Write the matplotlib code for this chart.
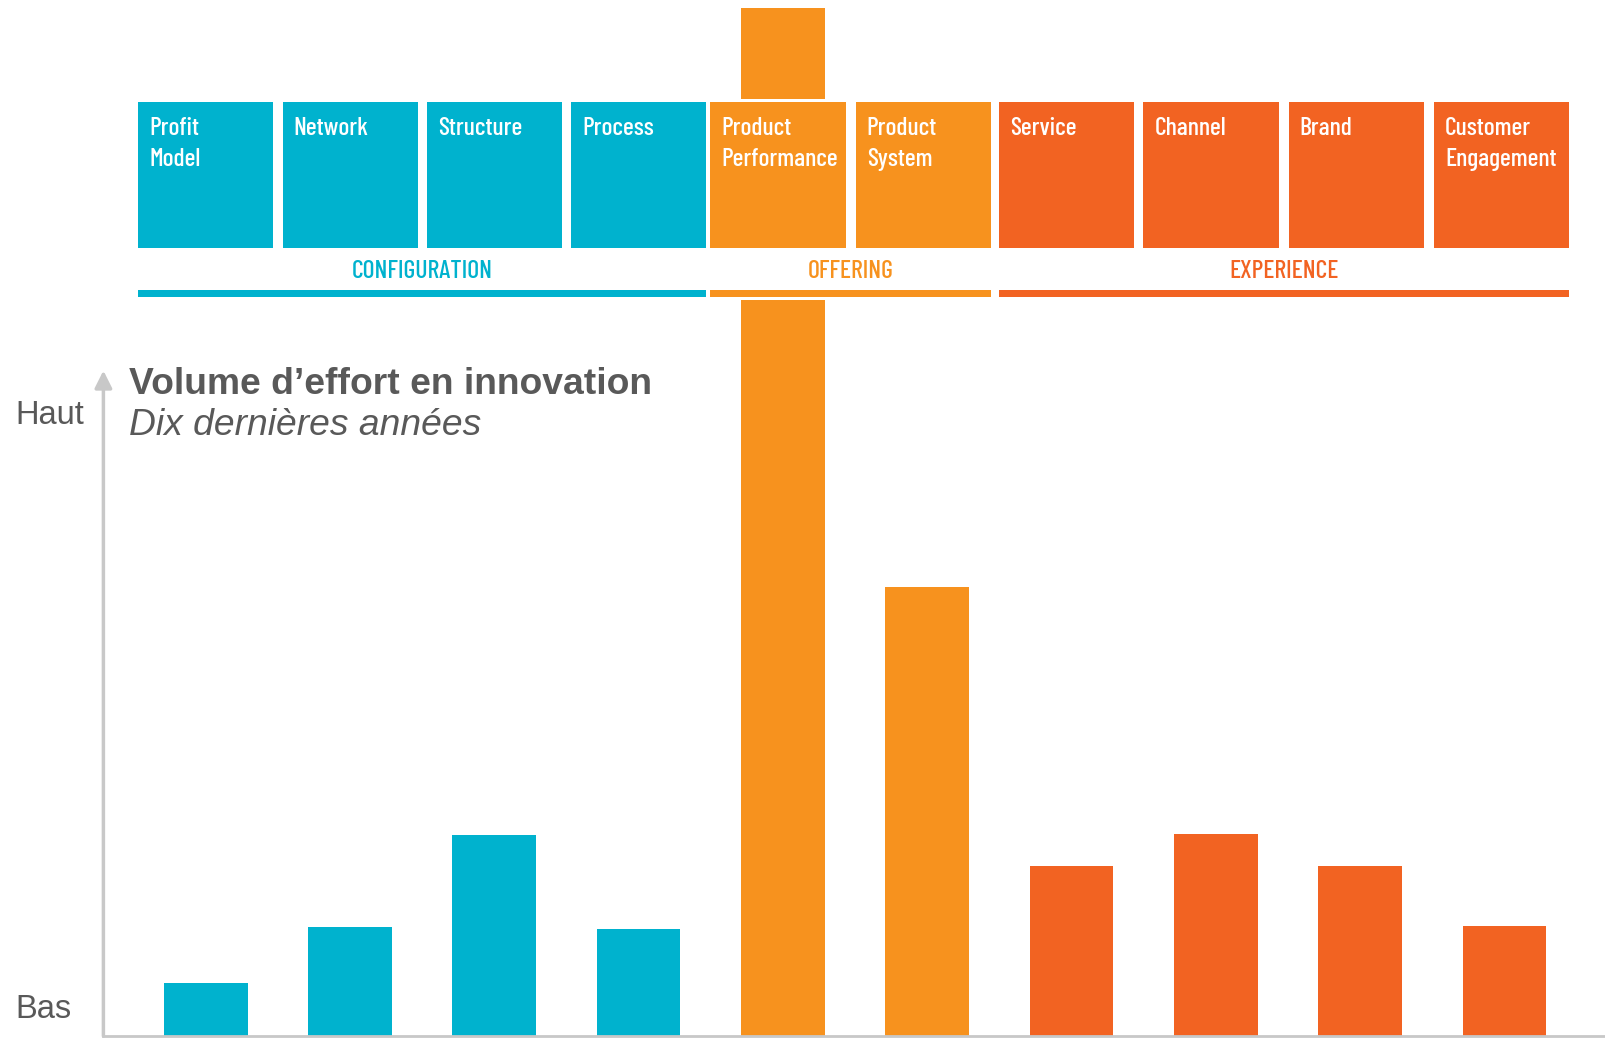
import matplotlib

matplotlib.use("Agg")

import matplotlib.pyplot as plt
from matplotlib.patches import Rectangle

# ten types of innovation, left to right
labels = [
    "Profit\nModel", "Network", "Structure", "Process",
    "Product\nPerformance", "Product\nSystem",
    "Service", "Channel", "Brand", "Customer\nEngagement",
]
# relative innovation effort (tallest bar = 100)
effort = [5.2, 10.6, 19.6, 10.4, 100, 43.7, 16.5, 19.7, 16.5, 10.7]
group_of = [0, 0, 0, 0, 1, 1, 2, 2, 2, 2]
groups = ["CONFIGURATION", "OFFERING", "EXPERIENCE"]
group_colors = ["#00B2CE", "#F7921E", "#F26322"]

W, H = 1605, 1038
GREY_TXT = "#595959"
GREY_AXIS = "#C8C8C8"
COND = ["Barlow Condensed", "DejaVu Sans"]
SANS = ["Liberation Sans", "DejaVu Sans"]

# header layout (pixels from the left / top)
BOX_LEFT = [138.2, 282.5, 426.8, 571.2, 710.4, 855.7, 999.0, 1143.4, 1288.7, 1434.1]
BOX_W = 135.1
BOX_TOP, BOX_BOT = 102.4, 247.7
LINE_TOP, LINE_BOT = 289.7, 296.9


def fx(px):
    return px / W


def fy(px):
    return 1 - px / H


fig = plt.figure(figsize=(W / 100, H / 100), dpi=100)
ax = fig.add_axes([103.4 / W, 2 / H, 1 - 103.4 / W, 1 - 2 / H])

x = list(range(len(labels)))
colors = [group_colors[g] for g in group_of]
ax.bar(x, effort, width=0.58, color=colors, zorder=2)

ax.set_xlim(-0.709, 9.697)
ax.set_ylim(0, 100.8)
ax.set_xticks([])
ax.set_yticks([])
for s in ["top", "right", "left"]:
    ax.spines[s].set_visible(False)
ax.spines["bottom"].set_color(GREY_AXIS)
ax.spines["bottom"].set_linewidth(2)

# vertical arrow axis
ax.annotate("", xy=(0, (1036 - 370.6) / 1036), xytext=(0, 0),
            xycoords="axes fraction", textcoords="axes fraction",
            arrowprops=dict(arrowstyle="-|>", color=GREY_AXIS, lw=2.5,
                            mutation_scale=26, shrinkA=0, shrinkB=0),
            annotation_clip=False)

# header band: white strip interrupting the tallest bar
tf = fig.transFigure
ax.add_patch(Rectangle((0, fy(300)), 1, fy(99.3) - fy(300), transform=tf,
                       facecolor="white", edgecolor="none", zorder=3, clip_on=False))
for i, lab in enumerate(labels):
    ax.add_patch(Rectangle((fx(BOX_LEFT[i]), fy(BOX_BOT)), BOX_W / W,
                           fy(BOX_TOP) - fy(BOX_BOT), transform=tf,
                           facecolor=colors[i], edgecolor="none", zorder=4,
                           clip_on=False))
    ax.text(fx(BOX_LEFT[i] + 11), fy(117), lab, transform=tf, ha="left",
            va="top", color="white", fontsize=18.5, family=COND, fontweight=500,
            linespacing=1.45, zorder=5, clip_on=False)

for g, name in enumerate(groups):
    idx = [i for i in x if group_of[i] == g]
    left = BOX_LEFT[idx[0]]
    right = BOX_LEFT[idx[-1]] + BOX_W
    ax.add_patch(Rectangle((fx(left), fy(LINE_BOT)), (right - left) / W,
                           fy(LINE_TOP) - fy(LINE_BOT), transform=tf,
                           facecolor=group_colors[g], edgecolor="none",
                           zorder=4, clip_on=False))
    ax.text(fx((left + right) / 2), fy(272), name, transform=tf, ha="center",
            va="center", color=group_colors[g], fontsize=18.5, family=COND,
            fontweight=500, zorder=5, clip_on=False)

# titles and axis words
fig.text(fx(129), fy(384), "Volume d\u2019effort en innovation", ha="left",
         va="center", fontsize=26.8, fontweight="bold", color=GREY_TXT, family=SANS)
fig.text(fx(129), fy(425), "Dix derni\u00e8res ann\u00e9es", ha="left",
         va="center", fontsize=26.8, style="italic", color=GREY_TXT, family=SANS)
fig.text(fx(15.5), fy(416), "Haut", ha="left", va="center", fontsize=23.5,
         color=GREY_TXT, family=SANS)
fig.text(fx(15.5), fy(1010), "Bas", ha="left", va="center", fontsize=23.5,
         color=GREY_TXT, family=SANS)

fig.savefig("out.png", dpi=100)
